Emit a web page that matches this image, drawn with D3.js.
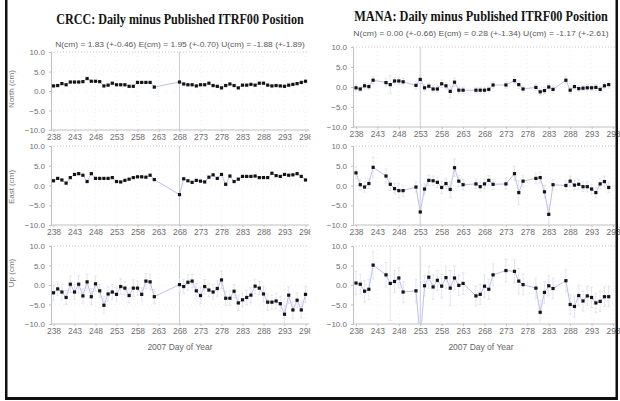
<!DOCTYPE html>
<html>
<head>
<meta charset="utf-8">
<script src="https://cdn.jsdelivr.net/npm/d3@7"></script>
<style>
  body { margin: 0; background: #fff; }
  svg { display: block; }
</style>
</head>
<body>
<svg id="chart" width="620" height="401"></svg>
<script>
// ---- CRCC daily position residuals (cm) ----
const crccDays = [238,239,240,241,242,243,244,245,246,247,248,249,250,251,252,253,254,255,256,257,258,259,260,261,262,
  268,269,270,271,272,273,274,275,276,277,278,279,280,281,282,283,284,285,286,287,288,289,290,291,292,293,294,295,296,297,298];
const crccNorth = [1.3,1.4,1.9,1.6,2.3,2.3,2.3,2.4,3.2,2.5,2.5,2.4,1.3,1.5,2.0,1.6,1.6,1.6,1.2,1.2,2.2,2.2,2.2,2.2,1.0,
  2.3,1.8,1.6,1.6,1.3,1.6,1.6,2.0,1.4,1.2,0.8,1.4,1.8,1.4,0.8,1.5,1.5,1.7,1.5,2.0,2.0,1.5,1.3,1.4,1.3,1.2,1.5,1.7,1.9,2.2,2.5];
const crccEast = [1.2,1.8,1.4,0.6,2.0,2.8,3.0,2.6,1.0,3.0,1.8,1.8,1.8,1.8,2.0,1.0,0.9,1.3,1.6,2.0,2.2,2.2,2.1,2.6,1.5,
  -2.3,1.7,1.2,0.8,1.3,1.1,0.9,2.1,2.7,1.8,2.8,0.3,2.4,1.0,1.6,2.3,2.3,2.3,2.4,2.0,2.0,2.0,3.1,2.5,2.3,2.8,2.6,2.7,3.0,2.3,1.4];
const crccUp = [-2.0,-1.0,-1.8,-3.2,0.2,-1.8,0.2,-2.8,0.8,-3.0,0.3,-1.5,-5.2,-2.3,-1.8,-2.4,-0.4,-0.8,-2.7,-0.8,-0.8,-2.4,1.0,0.8,-3.0,
  0.1,-0.4,0.7,1.0,-1.5,-2.7,-0.4,-1.3,-1.8,-0.9,1.3,-3.4,-3.4,-1.6,-4.6,-3.8,-3.2,-2.6,-0.3,-0.8,-2.3,-4.4,-4.4,-4.1,-4.8,-7.5,-2.6,-6.4,-3.9,-6.4,-2.4];
const crccUpErr = [1.9,1.7,2.0,1.8,2.1,1.9,2.2,1.8,2.0,2.1,1.9,1.7,2.2,1.8,1.9,1.7,2.0,1.8,1.9,2.1,1.8,1.7,1.9,2.0,1.8,
  1.9,1.8,2.0,1.7,1.9,2.1,1.8,1.7,1.9,2.0,2.2,1.8,1.9,1.7,2.0,1.8,1.9,2.0,1.8,1.7,1.9,2.1,1.8,2.0,1.9,2.3,2.1,2.2,1.9,2.1,2.0];

// ---- MANA daily position residuals (cm) ----
const manaDays = [238,239,240,241,242,245,246,247,248,249,252,253,254,255,256,257,258,259,260,261,262,263,
  266,267,268,269,270,273,275,276,277,280,281,282,283,284,287,288,289,290,291,292,293,294,295,296,297];
const manaNorth = [-0.2,-0.5,0.3,0.1,1.7,1.1,0.6,1.5,1.5,1.3,0.4,1.9,-0.2,0.2,-0.5,-0.5,0.8,0.3,-1.1,1.2,-0.8,-0.8,
  -0.8,-0.8,-0.8,-0.6,0.5,0.5,1.6,0.6,-0.5,-0.1,-1.2,-0.9,0.0,-0.6,1.7,-0.8,0.1,-0.4,-0.3,-0.2,-0.2,-0.1,-0.6,0.3,0.6];
const manaNorthErr = [0.8,0.7,0.8,0.7,0.9,1.0,2.2,0.8,0.9,0.8,0.9,1.0,0.8,0.7,0.8,0.8,0.9,0.8,1.6,1.0,0.8,0.8,
  0.7,0.7,0.8,0.7,0.8,0.8,0.9,1.0,0.8,0.8,0.9,0.8,0.8,0.9,0.9,0.8,0.7,0.7,0.7,0.8,0.7,0.7,0.8,0.8,0.9];
const manaEast = [3.2,0.2,-0.4,0.5,4.6,2.4,0.3,-0.8,-1.3,-1.3,-0.4,-6.7,-0.9,1.3,1.2,0.8,-0.5,0.5,-1.0,4.5,1.1,0.2,
  0.4,-0.3,0.4,1.3,0.3,0.4,3.0,-1.8,1.1,1.8,2.0,-1.6,-7.3,0.2,0.0,1.1,0.1,0.3,-0.3,-0.3,-0.9,-1.8,0.4,1.0,-0.5];
const manaEastErr = [1.5,1.2,1.3,1.2,2.5,1.8,1.5,1.3,1.8,1.4,1.3,3.0,1.5,1.3,1.2,1.3,1.5,1.3,2.0,2.2,1.4,1.3,
  1.2,1.2,1.3,1.2,1.3,1.3,1.8,3.0,1.4,1.3,1.4,1.6,2.5,1.3,1.2,1.3,1.2,1.2,1.2,1.3,1.2,1.3,1.3,1.4,1.3];
const manaUp = [0.5,0.2,-1.6,-1.1,5.1,2.6,0.4,0.9,1.8,-1.8,-1.5,-14.0,-0.2,2.0,-0.5,1.2,-0.3,1.9,-0.8,1.8,-0.1,0.4,
  -2.8,-2.4,-0.3,-1.1,2.6,3.7,3.5,1.0,0.1,-0.8,-7.0,-1.9,-0.2,-0.9,1.1,-5.0,-5.5,-2.7,-4.1,-2.8,-3.2,-4.6,-4.2,-3.0,-3.0];
const manaUpErr = [3.0,2.5,2.8,2.6,3.5,3.2,9.5,2.8,2.6,2.7,3.0,6.0,2.6,2.8,3.2,2.6,3.0,2.8,4.5,3.0,2.6,2.8,
  2.5,2.6,2.8,2.6,2.8,2.9,3.0,3.2,2.6,2.6,3.0,2.8,2.6,2.6,2.8,2.5,2.7,2.6,2.6,2.5,2.6,2.5,2.6,2.5,2.6];

// ---- axes and labels ----
const dayDomain = [238, 298];
const dayTicks = [238,243,248,253,258,263,268,273,278,283,288,293,298];
const cmDomain = [-10, 10];
const cmTicks = [10, 5, 0, -5, -10];
const componentNames = ["North (cm)", "East (cm)", "Up (cm)"];
const xAxisTitle = "2007 Day of Year";
const crccTitle = "CRCC: Daily minus Published ITRF00 Position";
const crccSummary = "N(cm) = 1.83 (+-0.46)  E(cm) = 1.95 (+-0.70)  U(cm) = -1.88 (+-1.89)";
const manaTitle = "MANA: Daily minus Published ITRF00 Position";
const manaSummary = "N(cm) = 0.00 (+-0.66)  E(cm) = 0.28 (+-1.34)  U(cm) = -1.17 (+-2.61)";
const crccMarkDay = 268;
const manaMarkDay = 253;

const svg = d3.select("#chart");
svg.append("rect").attr("width", 620).attr("height", 401).attr("fill", "#fff");

const SANS = "Liberation Sans, Arial, sans-serif";
const SERIF = "Liberation Serif, Times New Roman, serif";
const TICK_COLOR = "#6f6f6f";
const fmt = d3.format(".1f");

// Text squeezed horizontally to a given width, centred on cx.
function fittedText(parent, str, cx, baseline, width, attrs) {
  const wrap = parent.append("g");
  const t = wrap.append("text").attr("x", 0).attr("y", 0).attr("text-anchor", "middle");
  Object.entries(attrs).forEach(([k, v]) => t.attr(k, v));
  t.text(str);
  const natural = t.node().getComputedTextLength();
  const sx = natural > 0 ? width / natural : 1;
  wrap.attr("transform", `translate(${cx},${baseline}) scale(${sx},1)`);
  return t;
}

function drawStation(cfg) {
  const g = svg.append("g");
  if (cfg.backdrop) {
    g.append("rect").attr("x", cfg.backdrop[0]).attr("y", 0)
      .attr("width", cfg.backdrop[1] - cfg.backdrop[0]).attr("height", 401).attr("fill", "#fff");
  }
  const x = d3.scaleLinear().domain(dayDomain).range(cfg.xRange);

  fittedText(g, cfg.title, cfg.titleX, cfg.titleY, cfg.titleW, {
    "font-family": SERIF, "font-weight": "bold", "font-size": 15, "fill": "#151515"
  });
  fittedText(g, cfg.summary, cfg.titleX, cfg.summaryY, cfg.summaryW, {
    "font-family": SANS, "font-size": 8, "fill": "#5a5a5a"
  });

  cfg.panels.forEach((p, i) => {
    const y = d3.scaleLinear().domain(cmDomain).range([p.bottom, p.top]);
    const pg = g.append("g");
    const clipId = `clip-${cfg.id}-${i}`;
    svg.append("clipPath").attr("id", clipId)
      .append("rect")
      .attr("x", cfg.axisX).attr("y", p.top)
      .attr("width", cfg.clipRight - cfg.axisX).attr("height", p.bottom - p.top);

    // faint dotted grid
    pg.append("g").selectAll("line").data(dayTicks).join("line")
      .attr("x1", d => x(d)).attr("x2", d => x(d))
      .attr("y1", p.top).attr("y2", p.bottom)
      .attr("stroke", "#f0f0f4").attr("stroke-dasharray", "1,3");
    pg.append("g").selectAll("line").data(cmTicks.slice(1, -1)).join("line")
      .attr("x1", cfg.axisX).attr("x2", cfg.clipRight)
      .attr("y1", d => y(d)).attr("y2", d => y(d))
      .attr("stroke", "#f0f0f4").attr("stroke-dasharray", "1,3");

    // top border (dotted)
    pg.append("line")
      .attr("x1", cfg.axisX).attr("x2", cfg.clipRight)
      .attr("y1", p.top).attr("y2", p.top)
      .attr("stroke", "#c8c8c8").attr("stroke-dasharray", "1,2");

    // reference day line
    pg.append("line")
      .attr("x1", x(cfg.markDay)).attr("x2", x(cfg.markDay))
      .attr("y1", p.top).attr("y2", p.bottom)
      .attr("stroke", "#c9cce0").attr("stroke-width", 1);

    // y axis
    const ya = pg.append("g").attr("transform", `translate(${cfg.axisX},0)`)
      .call(d3.axisLeft(y).tickValues(cmTicks).tickFormat(fmt).tickSize(2).tickPadding(4));
    ya.select(".domain").attr("stroke", "#c0c0c0");
    ya.selectAll(".tick line").attr("stroke", "#c0c0c0");
    ya.selectAll("text").attr("font-family", SANS).attr("font-size", 8).attr("fill", TICK_COLOR);

    // x axis
    const xa = pg.append("g").attr("transform", `translate(0,${p.bottom})`)
      .call(d3.axisBottom(x).tickValues(dayTicks).tickFormat(d3.format("d")).tickSize(2).tickPadding(2));
    xa.select(".domain").attr("stroke", "#c0c0c0")
      .attr("d", `M${cfg.axisX},0H${cfg.clipRight}`);
    xa.selectAll(".tick line").attr("stroke", "#c0c0c0");
    xa.selectAll("text").attr("font-family", SANS).attr("font-size", 8.5).attr("fill", TICK_COLOR);

    // component label
    if (cfg.yTitleX != null) {
      pg.append("text")
        .attr("transform", `translate(${cfg.yTitleX},${p.labelY}) rotate(-90)`)
        .attr("text-anchor", "middle")
        .attr("font-family", SANS).attr("font-size", 8).attr("fill", "#777")
        .text(componentNames[i]);
    }

    const s = p.series;
    const pts = cfg.days.map((d, k) => ({ d, v: s.values[k], e: s.err ? s.err[k] : 0 }));
    const plot = pg.append("g").attr("clip-path", `url(#${clipId})`);

    // error bars
    plot.append("g").selectAll("g").data(pts.filter(q => q.e > 0)).join("g")
      .each(function (q) {
        const eg = d3.select(this);
        const cx = x(q.d);
        eg.append("line").attr("x1", cx).attr("x2", cx)
          .attr("y1", y(q.v - q.e)).attr("y2", y(q.v + q.e))
          .attr("stroke", "#dedef0").attr("stroke-width", 0.8);
        [q.v - q.e, q.v + q.e].forEach(vv => {
          eg.append("line").attr("x1", cx - 1.5).attr("x2", cx + 1.5)
            .attr("y1", y(vv)).attr("y2", y(vv))
            .attr("stroke", "#dedef0").attr("stroke-width", 0.8);
        });
      });

    // connecting line
    plot.append("path")
      .datum(pts)
      .attr("d", d3.line().x(q => x(q.d)).y(q => y(q.v)))
      .attr("fill", "none").attr("stroke", "#bcc0ef").attr("stroke-width", 1);

    // daily solutions
    plot.append("g").selectAll("rect").data(pts).join("rect")
      .attr("x", q => x(q.d) - 1.6).attr("y", q => y(q.v) - 1.6)
      .attr("width", 3.2).attr("height", 3.2)
      .attr("fill", "#141414");

    if (i === 2) {
      g.append("text")
        .attr("x", cfg.titleX).attr("y", p.bottom + 26)
        .attr("text-anchor", "middle")
        .attr("font-family", SANS).attr("font-size", 8.5).attr("fill", "#666")
        .text(xAxisTitle);
    }
  });
}

drawStation({
  id: "crcc",
  title: crccTitle, summary: crccSummary,
  titleX: 180, titleY: 24, titleW: 248, summaryY: 47, summaryW: 250,
  xRange: [53.5, 305.5], axisX: 51, clipRight: 309,
  yTitleX: 14,
  markDay: crccMarkDay,
  days: crccDays,
  panels: [
    { top: 52, bottom: 130, labelY: 89, series: { values: crccNorth } },
    { top: 146, bottom: 225, labelY: 187, series: { values: crccEast } },
    { top: 246, bottom: 324, labelY: 273, series: { values: crccUp, err: crccUpErr } }
  ]
});

drawStation({
  id: "mana",
  backdrop: [310.5, 615],
  title: manaTitle, summary: manaSummary,
  titleX: 481, titleY: 21, titleW: 254, summaryY: 36, summaryW: 256,
  xRange: [356, 613], axisX: 353, clipRight: 615,
  yTitleX: null,
  markDay: manaMarkDay,
  days: manaDays,
  panels: [
    { top: 47, bottom: 127, labelY: 87, series: { values: manaNorth, err: manaNorthErr } },
    { top: 146, bottom: 225, labelY: 187, series: { values: manaEast, err: manaEastErr } },
    { top: 246, bottom: 324, labelY: 273, series: { values: manaUp, err: manaUpErr } }
  ]
});

// outer frame (left, right and bottom rules)
svg.append("rect").attr("x", 5).attr("y", 0).attr("width", 2.5).attr("height", 400).attr("fill", "#111");
svg.append("rect").attr("x", 615.5).attr("y", 0).attr("width", 2.5).attr("height", 400).attr("fill", "#111");
svg.append("rect").attr("x", 5).attr("y", 397).attr("width", 613).attr("height", 3).attr("fill", "#111");
</script>
</body>
</html>
